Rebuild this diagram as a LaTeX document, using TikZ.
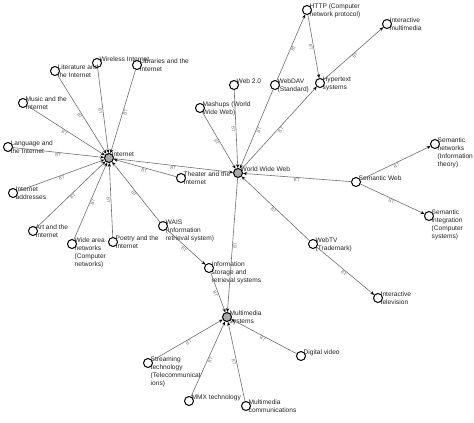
\documentclass[tikz,border=0pt]{standalone}
\usepackage{fontspec}
\setmainfont{Liberation Sans}
\usepackage{tikz}
\usetikzlibrary{arrows.meta}
\definecolor{lhline}{RGB}{110,110,110}
\definecolor{lhtext}{RGB}{35,35,35}
\definecolor{lhbt}{RGB}{120,120,120}
\definecolor{lhhub}{RGB}{170,170,170}
\tikzset{
  term/.style={circle, draw=black, line width=1pt, minimum size=9pt, inner sep=0pt, fill=white},
  hub/.style={term, fill=lhhub},
  tag/.style={anchor=north west, xshift=2.5pt, yshift=6.5pt, inner sep=0pt, align=left,
              text=lhtext, font=\fontsize{6.6}{8}\selectfont},
  rel/.style={-{Stealth[length=3.8pt, width=3.2pt, color=black]}, line width=0.6pt, draw=lhline},
  bt/.style={midway, sloped, below, inner sep=0.8pt, text=lhbt, font=\fontsize{4.6}{5}\selectfont}
}

\begin{document}
\begin{tikzpicture}[x=1pt, y=-1pt]
  \useasboundingbox (0,0) rectangle (474,423);

  \node[hub] (inet) at (109,158) {};
  \node[hub] (www) at (238,173) {};
  \node[hub] (mm) at (227,317) {};

  \node[term] (lit) at (55,71) {};
  \node[term] (wless) at (97,63) {};
  \node[term] (lib) at (137,65) {};
  \node[term] (music) at (23,103) {};
  \node[term] (lang) at (8,147) {};
  \node[term] (addr) at (13,193) {};
  \node[term] (art) at (33,231) {};
  \node[term] (wan) at (72,244) {};
  \node[term] (poetry) at (113,242) {};
  \node[term] (wais) at (163,226) {};
  \node[term] (theater) at (181,178) {};
  \node[term] (web2) at (234,85) {};
  \node[term] (mash) at (200,108) {};
  \node[term] (dav) at (275,85) {};
  \node[term] (http) at (307,10) {};
  \node[term] (hyper) at (320,83) {};
  \node[term] (imm) at (387,24) {};
  \node[term] (sem) at (356,182) {};
  \node[term] (semnet) at (435,144) {};
  \node[term] (semint) at (429,216) {};
  \node[term] (tv) at (313,244) {};
  \node[term] (itv) at (378,298) {};
  \node[term] (info) at (209,268) {};
  \node[term] (dvid) at (301,356) {};
  \node[term] (stream) at (148,363) {};
  \node[term] (mmx) at (189,401) {};
  \node[term] (mmcomm) at (246,406) {};

  \node[tag] (inet-t) at (inet) {Internet};
  \node[tag] (www-t) at (www) {World Wide Web};
  \node[tag] (mm-t) at (mm) {Multimedia\\systems};
  \node[tag] (lit-t) at (lit) {Literature and\\the Internet};
  \node[tag] (wless-t) at (wless) {Wireless Internet};
  \node[tag] (lib-t) at (lib) {Libraries and the\\Internet};
  \node[tag] (music-t) at (music) {Music and the\\Internet};
  \node[tag] (lang-t) at (lang) {Language and\\the Internet};
  \node[tag] (addr-t) at (addr) {Internet\\addresses};
  \node[tag] (art-t) at (art) {Art and the\\Internet};
  \node[tag] (wan-t) at (wan) {Wide area\\networks\\(Computer\\networks)};
  \node[tag] (poetry-t) at (poetry) {Poetry and the\\Internet};
  \node[tag] (wais-t) at (wais) {WAIS\\(Information\\retrieval system)};
  \node[tag] (theater-t) at (theater) {Theater and the\\Internet};
  \node[tag] (web2-t) at (web2) {Web 2.0};
  \node[tag] (mash-t) at (mash) {Mashups (World\\Wide Web)};
  \node[tag] (dav-t) at (dav) {WebDAV\\(Standard)};
  \node[tag] (http-t) at (http) {HTTP (Computer\\network protocol)};
  \node[tag] (hyper-t) at (hyper) {Hypertext\\systems};
  \node[tag] (imm-t) at (imm) {Interactive\\multimedia};
  \node[tag] (sem-t) at (sem) {Semantic Web};
  \node[tag] (semnet-t) at (semnet) {Semantic\\networks\\(Information\\theory)};
  \node[tag] (semint-t) at (semint) {Semantic\\integration\\(Computer\\systems)};
  \node[tag] (tv-t) at (tv) {WebTV\\(Trademark)};
  \node[tag] (itv-t) at (itv) {Interactive\\television};
  \node[tag] (info-t) at (info) {Information\\storage and\\retrieval systems};
  \node[tag] (dvid-t) at (dvid) {Digital video};
  \node[tag] (stream-t) at (stream) {Streaming\\technology\\(Telecommunicat\\ions)};
  \node[tag] (mmx-t) at (mmx) {MMX technology};
  \node[tag] (mmcomm-t) at (mmcomm) {Multimedia\\communications};

  % broader terms of Internet
  \draw[rel] (lit) -- (inet) node[bt] {BT};
  \draw[rel] (wless) -- (inet) node[bt] {BT};
  \draw[rel] (lib) -- (inet) node[bt] {BT};
  \draw[rel] (music) -- (inet) node[bt] {BT};
  \draw[rel] (lang) -- (inet) node[bt] {BT};
  \draw[rel] (addr) -- (inet) node[bt] {BT};
  \draw[rel] (art) -- (inet) node[bt] {BT};
  \draw[rel] (wan) -- (inet) node[bt] {BT};
  \draw[rel] (poetry) -- (inet) node[bt] {BT};
  \draw[rel] (wais) -- (inet) node[bt] {BT};
  \draw[rel] (theater) -- (inet) node[bt] {BT};
  \draw[rel] (inet) -- (www) node[bt] {BT};

  % broader terms of World Wide Web
  \draw[rel] (web2) -- (www) node[bt] {BT};
  \draw[rel] (mash) -- (www) node[bt] {BT};
  \draw[rel] (dav) -- (www) node[bt] {BT};
  \draw[rel] (sem) -- (www) node[bt] {BT};
  \draw[rel] (tv) -- (www) node[bt] {BT};
  \draw[rel] (www) -- (hyper) node[bt] {BT};
  \draw[rel] (dav) -- (http) node[bt] {BT};
  \draw[rel] (http) -- (hyper) node[bt] {BT};
  \draw[rel] (hyper) -- (imm) node[bt] {BT};
  \draw[rel] (sem) -- (semnet) node[bt] {BT};
  \draw[rel] (sem) -- (semint) node[bt] {BT};
  \draw[rel] (tv) -- (itv) node[bt] {BT};

  % broader terms of Multimedia systems
  \draw[rel] (wais) -- (info) node[bt] {BT};
  \draw[rel] (www) -- (mm) node[bt] {BT};
  \draw[rel] (info) -- (mm) node[bt] {BT};
  \draw[rel] (stream) -- (mm) node[bt] {BT};
  \draw[rel] (mmx) -- (mm) node[bt] {BT};
  \draw[rel] (mmcomm) -- (mm) node[bt] {BT};
  \draw[rel] (dvid) -- (mm) node[bt] {BT};
\end{tikzpicture}
\end{document}
